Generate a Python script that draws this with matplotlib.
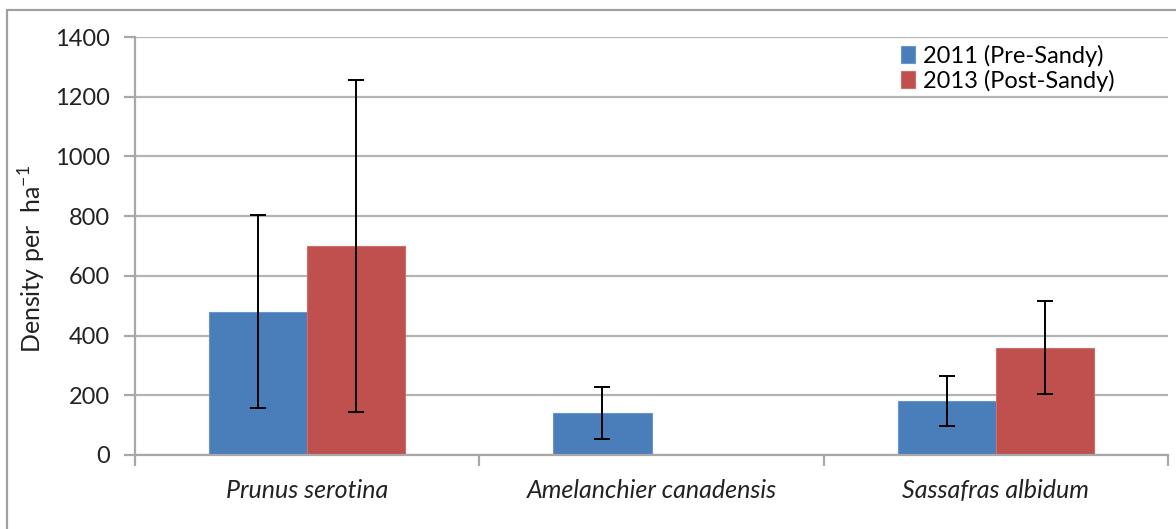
import numpy as np
import matplotlib
matplotlib.use("Agg")
from matplotlib import pyplot as plt
from matplotlib.patches import Rectangle

# species densities (stems per ha) with error bars
species = ["Prunus serotina", "Amelanchier canadensis", "Sassafras albidum"]
dens_2011 = [480, 140, 180]
err_2011 = [323, 87, 84]
dens_2013 = [700, 0, 360]
err_2013 = [557, 0, 156]
labels = ["2011 (Pre-Sandy)", "2013 (Post-Sandy)"]

plt.rcParams['font.family'] = ['Lato', 'DejaVu Sans']

fig = plt.figure(figsize=(11.76, 5.29), dpi=100)
ax = fig.add_axes([0.1148, 0.1399, 0.8784, 0.7901])

# outer chart-area border (left and top visible)
fig.patches.append(Rectangle((7 / 1176, -0.1), 1.2, 1 - 10 / 529 + 0.1,
                             transform=fig.transFigure, fill=False,
                             edgecolor="#a0a0a0", linewidth=1.6))

x = np.arange(len(species))
w = 0.285
blue, red = "#4a7ebb", "#c0504d"

ax.set_axisbelow(True)
ax.yaxis.grid(True, color="#b4b4b4", linewidth=1.6)

ekw = dict(ecolor="black", elinewidth=1.4, capsize=6, capthick=1.4)
ax.bar(x - w / 2, dens_2011, w, color=blue, edgecolor="#6a95c8",
       linewidth=0.8, label=labels[0])
ax.bar(x + w / 2, dens_2013, w, color=red, edgecolor="#cc6f6c",
       linewidth=0.8, label=labels[1])
ax.errorbar(x - w / 2, dens_2011, yerr=err_2011, fmt="none", **ekw)
ax.errorbar([0 + w / 2, 2 + w / 2], [dens_2013[0], dens_2013[2]],
            yerr=[err_2013[0], err_2013[2]], fmt="none", **ekw)

ax.set_xlim(-0.5, 2.5)
ax.set_ylim(0, 1400)
ax.set_yticks(range(0, 1401, 200))
ax.set_xticks(x)
ax.set_xticklabels(species, fontstyle="italic", fontsize=18)
ax.set_xticks([-0.5, 0.5, 1.5, 2.5], minor=True)
ax.tick_params(axis="x", which="major", length=0, pad=17)
ax.tick_params(axis="x", which="minor", length=8, width=1.6, color="#a8a8a8")
ax.tick_params(axis="y", labelsize=17, length=8, width=1.6, color="#a8a8a8", pad=10)
for lbl in ax.get_yticklabels() + ax.get_xticklabels():
    lbl.set_color("#222222")

for s in ["top", "right"]:
    ax.spines[s].set_visible(False)
for s in ["left", "bottom"]:
    ax.spines[s].set_color("#a8a8a8")
    ax.spines[s].set_linewidth(1.6)

ax.set_ylabel("Density per  ha$^{\\mathregular{-1}}$", fontsize=18,
              color="#222222")
ax.yaxis.set_label_coords(-0.084, 0.47)

ax.legend(loc="upper right", bbox_to_anchor=(0.96, 1.01), frameon=False,
          fontsize=17, handlelength=0.6, handleheight=0.7, handletextpad=0.35,
          labelspacing=0.12, borderaxespad=0.1)

fig.savefig("out.png", dpi=100)
